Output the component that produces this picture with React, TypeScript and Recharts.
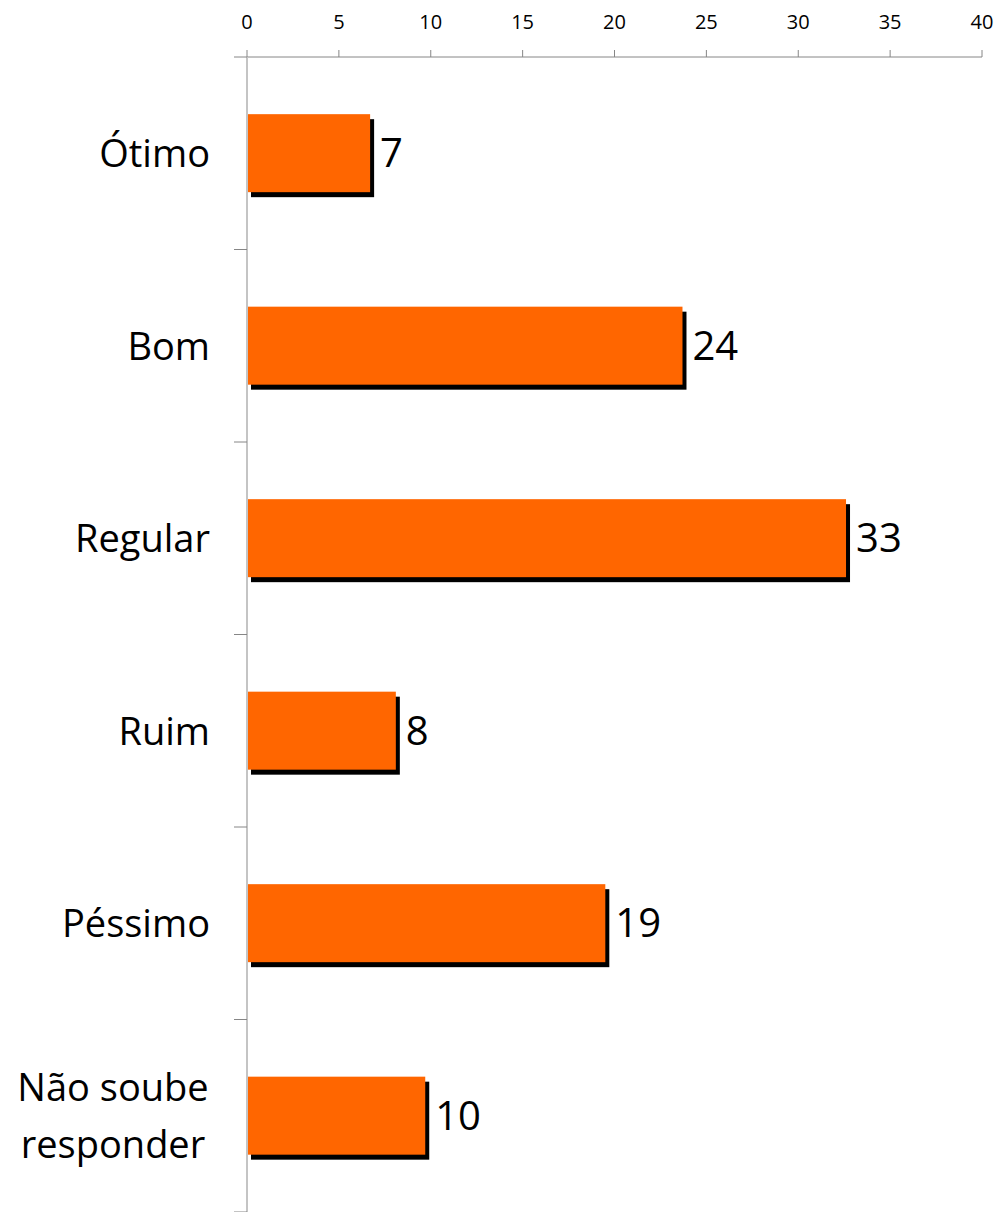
import { Bar, BarChart, LabelList, XAxis, YAxis } from "recharts";

const categories = ["Ótimo", "Bom", "Regular", "Ruim", "Péssimo", "Não soube responder"];
const values = [6.7, 23.7, 32.6, 8.1, 19.5, 9.7];
const valueLabels = ["7", "24", "33", "8", "19", "10"];
const xTicks = [0, 5, 10, 15, 20, 25, 30, 35, 40];

const data = categories.map((name, i) => ({ name, value: values[i], label: valueLabels[i] }));

const FONT = "'Open Sans', sans-serif";
const TICK_SIZE = 13;
const TICK_MARGIN = 21;

// bar with a black drop shadow down and to the right
const ShadowBar = (props: any) => {
  const { x, y, width, height } = props;
  return (
    <g>
      <rect x={x + 4} y={y + 5} width={width} height={height} fill="#000000" />
      <rect x={x} y={y} width={width} height={height} fill="#FF6600" />
    </g>
  );
};

const CategoryTick = (props: any) => {
  const { x, y, payload, index, visibleTicksCount } = props;
  const axisX = x + TICK_SIZE + TICK_MARGIN;
  const half = payload.offset ?? 0;
  const text: string = payload.value;
  const cut = text.lastIndexOf(" ");
  const lines = text.length > 12 ? [text.slice(0, cut), text.slice(cut + 1)] : [text];
  const lineGap = 57;
  const firstBase = y + 14 - ((lines.length - 1) * lineGap) / 2;
  return (
    <g>
      <line x1={axisX - TICK_SIZE} x2={axisX} y1={y - half} y2={y - half} stroke="#868686" />
      {index === visibleTicksCount - 1 && (
        <line x1={axisX - TICK_SIZE} x2={axisX} y1={y + half} y2={y + half} stroke="#868686" />
      )}
      {lines.map((ln, i) => (
        <text
          key={i}
          x={lines.length > 1 ? x - 100 : x - 3}
          y={firstBase + i * lineGap}
          textAnchor={lines.length > 1 ? "middle" : "end"}
          fontSize={38}
          fontFamily={FONT}
          fill="#000000"
        >
          {ln}
        </text>
      ))}
    </g>
  );
};

export default function App() {
  return (
    <div style={{ position: "absolute", left: 0, top: 0, background: "#ffffff" }}>
      <BarChart
        width={994}
        height={1212}
        data={data}
        layout="vertical"
        margin={{ top: 0, right: 12, bottom: 0, left: 0 }}
        barCategoryGap="29.7%"
      >
        <XAxis
          type="number"
          orientation="top"
          domain={[0, 40]}
          ticks={xTicks}
          height={57}
          axisLine={{ stroke: "#868686" }}
          tickLine={{ stroke: "#868686" }}
          tickSize={7}
          tickMargin={21}
          tick={{ fill: "#000000", fontSize: 20, fontFamily: FONT }}
          interval={0}
        />
        <YAxis
          type="category"
          dataKey="name"
          width={247}
          axisLine={{ stroke: "#c4c4c4", strokeWidth: 2 }}
          tickLine={false}
          tickSize={TICK_SIZE}
          tickMargin={TICK_MARGIN}
          tick={<CategoryTick />}
          interval={0}
        />
        <Bar dataKey="value" shape={<ShadowBar />} isAnimationActive={false}>
          <LabelList
            dataKey="label"
            position="right"
            offset={10}
            fill="#000000"
            fontSize={40}
            fontFamily={FONT}
          />
        </Bar>
      </BarChart>
    </div>
  );
}
